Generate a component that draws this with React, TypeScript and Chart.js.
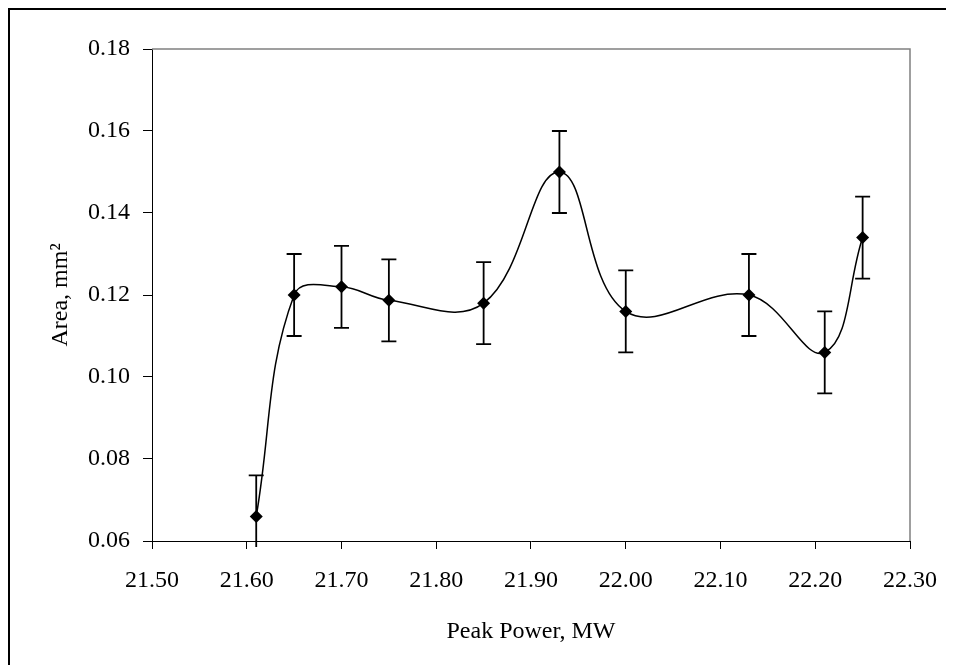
import React, { useEffect, useRef } from "react";
import { Chart, registerables } from "chart.js";

Chart.register(...registerables);

// ---- data ----
const peakPower = [21.61, 21.65, 21.7, 21.75, 21.85, 21.93, 22.0, 22.13, 22.21, 22.25];
const area = [0.066, 0.12, 0.122, 0.1187, 0.118, 0.15, 0.116, 0.12, 0.106, 0.134];
const areaError = [0.01, 0.01, 0.01, 0.01, 0.01, 0.01, 0.01, 0.01, 0.01, 0.01];
const xTickValues = [21.5, 21.6, 21.7, 21.8, 21.9, 22.0, 22.1, 22.2, 22.3];
const yTickValues = [0.06, 0.08, 0.1, 0.12, 0.14, 0.16, 0.18];
const xTitle = "Peak Power, MW";
const yTitle = "Area, mm\u00B2";

const FONT = { family: "'Liberation Serif', 'Times New Roman', serif", size: 24, lineHeight: 1.2 };

const W = 946;
const H = 657;

const framePlugin = {
  id: "frame",
  beforeDraw(chart: any) {
    const ctx = chart.ctx;
    ctx.save();
    ctx.fillStyle = "#ffffff";
    ctx.fillRect(0, 0, chart.width, chart.height);
    ctx.restore();
  },
  afterDraw(chart: any) {
    const ctx = chart.ctx;
    const a = chart.chartArea;
    ctx.save();
    // outer frame (top and left visible)
    ctx.fillStyle = "#000000";
    ctx.fillRect(0, 0, chart.width, 2);
    ctx.fillRect(0, 0, 2, chart.height);
    // plot area border (top & right, gray)
    ctx.strokeStyle = "#808080";
    ctx.lineWidth = 1.5;
    ctx.beginPath();
    ctx.moveTo(a.left, a.top);
    ctx.lineTo(a.right, a.top);
    ctx.lineTo(a.right, a.bottom);
    ctx.stroke();
    ctx.restore();
  },
};

const errorBarPlugin = {
  id: "errorBars",
  afterDatasetsDraw(chart: any) {
    const ctx = chart.ctx;
    const xs = chart.scales.x;
    const ys = chart.scales.y;
    const a = chart.chartArea;
    ctx.save();
    ctx.strokeStyle = "#000000";
    ctx.lineWidth = 1.8;
    const cap = 7.5;
    for (let i = 0; i < peakPower.length; i++) {
      const x = xs.getPixelForValue(peakPower[i]);
      const yHiV = area[i] + areaError[i];
      const yLoV = area[i] - areaError[i];
      const yHi = ys.getPixelForValue(yHiV);
      let yLo = ys.getPixelForValue(yLoV);
      const loClipped = yLo > a.bottom;
      if (loClipped) yLo = a.bottom + 6;
      ctx.beginPath();
      ctx.moveTo(x, yHi);
      ctx.lineTo(x, yLo);
      ctx.moveTo(x - cap, yHi);
      ctx.lineTo(x + cap, yHi);
      if (!loClipped) {
        ctx.moveTo(x - cap, yLo);
        ctx.lineTo(x + cap, yLo);
      }
      ctx.stroke();
    }
    ctx.restore();
  },
};

export default function App() {
  const canvasRef = useRef<HTMLCanvasElement | null>(null);

  useEffect(() => {
    document.body.style.overflow = "hidden";
    document.documentElement.style.overflow = "hidden";
    const canvas = canvasRef.current;
    if (!canvas) return;
    const chart = new Chart(canvas, {
      type: "line",
      data: {
        datasets: [
          {
            data: peakPower.map((x, i) => ({ x, y: area[i] })),
            borderColor: "#000000",
            borderWidth: 1.5,
            tension: 0.4,
            pointStyle: "rectRot",
            pointRadius: 6.5,
            pointBackgroundColor: "#000000",
            pointBorderColor: "#000000",
            pointBorderWidth: 0,
            fill: false,
          },
        ],
      },
      options: {
        responsive: false,
        animation: false,
        devicePixelRatio: 1,
        layout: { padding: { left: 34, top: 41, right: 34, bottom: 0 } },
        plugins: {
          legend: { display: false },
          tooltip: { enabled: false },
        },
        scales: {
          x: {
            type: "linear",
            min: 21.5,
            max: 22.3,
            afterBuildTicks: (s: any) => {
              s.ticks = xTickValues.map((v) => ({ value: v }));
            },
            afterFit: (s: any) => {
              s.height = 124;
            },
            ticks: {
              callback: (v: any) => Number(v).toFixed(2),
              color: "#000000",
              font: FONT,
              padding: 17,
              maxRotation: 0,
              autoSkip: false,
            },
            grid: {
              display: true,
              drawOnChartArea: false,
              drawTicks: true,
              tickLength: 8,
              color: "#000000",
              tickWidth: 1,
            },
            border: { display: true, color: "#000000", width: 1 },
            title: {
              display: true,
              text: xTitle,
              color: "#000000",
              font: FONT,
              padding: { top: 0, bottom: 19 },
            },
          },
          y: {
            type: "linear",
            min: 0.06,
            max: 0.18,
            afterBuildTicks: (s: any) => {
              s.ticks = yTickValues.map((v) => ({ value: v }));
            },
            afterFit: (s: any) => {
              s.width = 110;
            },
            ticks: {
              callback: (v: any) => Number(v).toFixed(2),
              color: "#000000",
              font: FONT,
              padding: 13,
            },
            grid: {
              display: true,
              drawOnChartArea: false,
              drawTicks: true,
              tickLength: 9,
              color: "#000000",
              tickWidth: 1,
            },
            border: { display: true, color: "#000000", width: 1 },
            title: {
              display: true,
              text: yTitle,
              color: "#000000",
              font: FONT,
              padding: { top: 4, bottom: 0 },
            },
          },
        },
      },
      plugins: [framePlugin, errorBarPlugin],
    } as any);
    return () => chart.destroy();
  }, []);

  return (
    <div style={{ width: W, height: H }}>
      <canvas ref={canvasRef} width={W} height={H} style={{ display: "block", width: W, height: H }} />
    </div>
  );
}
